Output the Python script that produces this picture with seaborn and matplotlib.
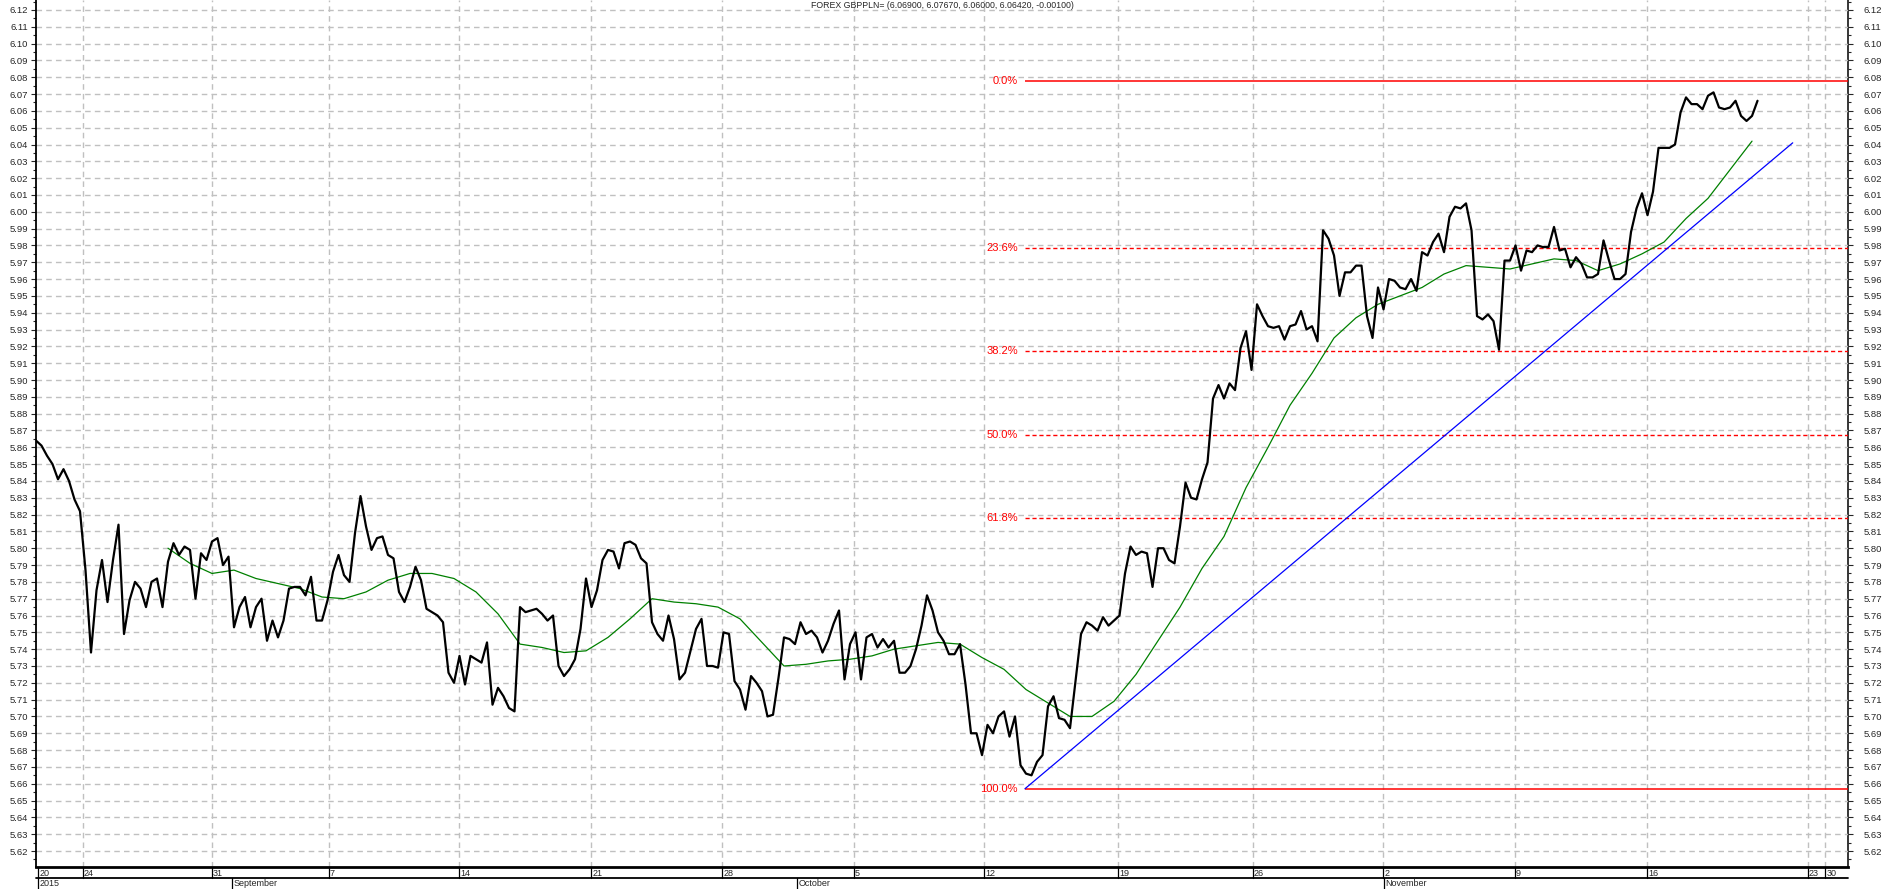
import numpy as np
import pandas as pd
import matplotlib
matplotlib.use("Agg")
import matplotlib.pyplot as plt
import matplotlib.transforms as mtransforms
from matplotlib.ticker import MultipleLocator, FormatStrFormatter
import seaborn as sns

# close price, one sample every 5 hourly bars
close = [
    5.864, 5.861, 5.855, 5.850, 5.841, 5.847, 5.840, 5.829, 5.822, 5.787,
    5.738, 5.775, 5.793, 5.768, 5.793, 5.814, 5.749, 5.769, 5.780, 5.776,
    5.765, 5.780, 5.782, 5.765, 5.792, 5.803, 5.796, 5.801, 5.799, 5.770,
    5.797, 5.793, 5.804, 5.806, 5.790, 5.795, 5.753, 5.765, 5.771, 5.753,
    5.765, 5.770, 5.745, 5.757, 5.747, 5.757, 5.776, 5.777, 5.777, 5.772,
    5.783, 5.757, 5.757, 5.769, 5.786, 5.796, 5.784, 5.780, 5.809, 5.831,
    5.813, 5.799, 5.806, 5.807, 5.796, 5.794, 5.774, 5.768, 5.777, 5.789,
    5.781, 5.764, 5.762, 5.760, 5.756, 5.726, 5.720, 5.736, 5.719, 5.736,
    5.734, 5.732, 5.744, 5.707, 5.717, 5.712, 5.705, 5.703, 5.765, 5.762,
    5.763, 5.764, 5.761, 5.757, 5.760, 5.730, 5.724, 5.728, 5.734, 5.752,
    5.782, 5.765, 5.775, 5.793, 5.799, 5.798, 5.788, 5.803, 5.804, 5.802,
    5.794, 5.791, 5.756, 5.749, 5.745, 5.760, 5.746, 5.722, 5.726, 5.739,
    5.752, 5.758, 5.730, 5.730, 5.729, 5.750, 5.749, 5.721, 5.716, 5.704,
    5.724, 5.720, 5.715, 5.700, 5.701, 5.723, 5.747, 5.746, 5.743, 5.756,
    5.749, 5.751, 5.747, 5.738, 5.745, 5.755, 5.763, 5.722, 5.743, 5.750,
    5.722, 5.747, 5.749, 5.741, 5.746, 5.741, 5.745, 5.726, 5.726, 5.730,
    5.740, 5.754, 5.772, 5.763, 5.750, 5.745, 5.737, 5.737, 5.743, 5.719,
    5.690, 5.690, 5.677, 5.695, 5.690, 5.700, 5.703, 5.688, 5.700, 5.671,
    5.666, 5.665, 5.673, 5.677, 5.706, 5.712, 5.699, 5.698, 5.693, 5.721,
    5.749, 5.756, 5.754, 5.751, 5.759, 5.754, 5.757, 5.760, 5.785, 5.801,
    5.796, 5.798, 5.797, 5.777, 5.800, 5.800, 5.793, 5.791, 5.813, 5.839,
    5.830, 5.829, 5.841, 5.851, 5.889, 5.897, 5.889, 5.898, 5.894, 5.919,
    5.929, 5.906, 5.945, 5.938, 5.932, 5.931, 5.932, 5.924, 5.932, 5.933,
    5.941, 5.930, 5.932, 5.923, 5.989, 5.984, 5.974, 5.950, 5.964, 5.964,
    5.968, 5.968, 5.938, 5.925, 5.955, 5.942, 5.960, 5.959, 5.955, 5.954,
    5.960, 5.953, 5.976, 5.974, 5.982, 5.987, 5.976, 5.997, 6.003, 6.002,
    6.005, 5.989, 5.938, 5.936, 5.939, 5.935, 5.918, 5.971, 5.971, 5.980,
    5.965, 5.977, 5.976, 5.980, 5.979, 5.979, 5.991, 5.977, 5.978, 5.967,
    5.973, 5.969, 5.961, 5.961, 5.963, 5.983, 5.971, 5.960, 5.960, 5.963,
    5.988, 6.002, 6.011, 5.998, 6.012, 6.038, 6.038, 6.038, 6.040, 6.059,
    6.068, 6.064, 6.064, 6.061, 6.069, 6.071, 6.062, 6.061, 6.062, 6.066,
    6.057, 6.054, 6.057, 6.066,
]

# moving average, read every 4th sample starting at sample 24
ma = [
    5.800, 5.791, 5.785, 5.787, 5.782, 5.779, 5.776, 5.771, 5.770, 5.774,
    5.781, 5.785, 5.785, 5.782, 5.774, 5.761, 5.743, 5.741, 5.738, 5.739,
    5.747, 5.758, 5.770, 5.768, 5.767, 5.765, 5.758, 5.744, 5.730, 5.731,
    5.733, 5.734, 5.736, 5.740, 5.742, 5.744, 5.743, 5.735, 5.728, 5.716,
    5.708, 5.700, 5.700, 5.709, 5.725, 5.745, 5.765, 5.788, 5.807, 5.836,
    5.860, 5.885, 5.904, 5.925, 5.937, 5.945, 5.950, 5.955, 5.963, 5.968,
    5.967, 5.966, 5.969, 5.972, 5.971, 5.965, 5.969, 5.975, 5.982, 5.996,
    6.008, 6.025, 6.042,
]
ma_start, ma_step = 24, 4

trend_x = [179.8, 319.4]
trend_y = [5.657, 6.041]

fib_low, fib_high = 5.657, 6.078
fib_start = 179.8
fib_levels = [0.0, 23.6, 38.2, 50.0, 61.8, 100.0]

day_labels = ["20", "24", "31", "7", "14", "21", "28", "5", "12", "19",
              "26", "2", "9", "16", "23", "30"]
day_pos = [0.36, 8.47, 31.93, 53.2, 76.98, 100.85, 124.67, 148.67, 172.42,
           196.8, 221.2, 244.98, 268.85, 292.87, 322.1, 325.3]
month_labels = ["2015", "September", "October", "November"]
month_pos = [0.36, 35.6, 138.4, 245.0]

title = "FOREX GBPPLN= (6.06900, 6.07670, 6.06000, 6.06420, -0.00100)"

sns.set_style("white")
plt.rcParams["font.family"] = ["Liberation Sans", "DejaVu Sans"]

W, H = 1883, 889
fig = plt.figure(figsize=(W / 100, H / 100), dpi=100)
ax = fig.add_axes([36 / W, 22 / H, (1848 - 36) / W, 867 / H])

price = pd.DataFrame({"bar": np.arange(len(close)), "close": close})
avg = pd.DataFrame({"bar": ma_start + ma_step * np.arange(len(ma)), "ma": ma})
trend = pd.DataFrame({"bar": trend_x, "val": trend_y})

xmax = 329.45
ax.set_xlim(0, xmax)
ax.set_ylim(5.6105, 6.1259)

# grid
grid_kw = dict(color="#c0c0c0", lw=1, ls=(0, (4, 3)), zorder=0)
ax.yaxis.set_major_locator(MultipleLocator(0.01))
ax.yaxis.set_minor_locator(MultipleLocator(0.005))
ax.yaxis.grid(True, which="major", **grid_kw)
for p in day_pos[1:]:
    ax.axvline(p, **grid_kw)

sns.lineplot(data=avg, x="bar", y="ma", ax=ax, color="#008000", lw=0.9, zorder=3)
sns.lineplot(data=trend, x="bar", y="val", ax=ax, color="#0000ff", lw=0.9, zorder=3)
sns.lineplot(data=price, x="bar", y="close", ax=ax, color="black", lw=1.6, zorder=4)

# fibonacci retracement
for lvl in fib_levels:
    v = fib_high - (fib_high - fib_low) * lvl / 100
    solid = lvl in (0.0, 100.0)
    ax.hlines(v, fib_start, xmax, color="#ff0000", lw=1.1 if solid else 1.0,
              ls="-" if solid else (0, (3, 2)), zorder=2)
    ax.annotate(f"{lvl:.1f}%", xy=(fib_start, v), xytext=(-5, 0),
                textcoords="offset points", ha="right", va="center",
                color="#ff0000", fontsize=8)

ax.set_xlabel("")
ax.set_ylabel("")
ax.set_xticks([])

# y axes on both sides
ax.yaxis.set_major_formatter(FormatStrFormatter("%.2f"))
ax.tick_params(axis="y", which="major", left=True, right=False, direction="out",
               length=3.5, width=0.8, pad=2, labelsize=6.8)
ax.tick_params(axis="y", which="minor", left=True, right=False, direction="out",
               length=2, width=0.8)
rax = ax.secondary_yaxis("right")
rax.yaxis.set_major_locator(MultipleLocator(0.01))
rax.yaxis.set_minor_locator(MultipleLocator(0.005))
rax.yaxis.set_major_formatter(FormatStrFormatter("%.2f"))
rax.tick_params(axis="y", which="major", direction="out", length=3.8, width=0.8,
                pad=7.5, labelsize=6.8)
rax.tick_params(axis="y", which="minor", direction="out", length=2, width=0.8)
rax.spines["right"].set_linewidth(1.3)

for s in ["left", "right"]:
    ax.spines[s].set_linewidth(1.3)
    ax.spines[s].set_color("black")
ax.spines["bottom"].set_linewidth(2)
ax.spines["bottom"].set_color("black")
ax.spines["top"].set_visible(False)
ax.spines["right"].set_visible(False)

# date rows under the plot
px = 1 / 867
trans = mtransforms.blended_transform_factory(ax.transData, ax.transAxes)
ax.plot([0, 1], [-11 * px, -11 * px], transform=ax.transAxes, color="black",
        lw=1.3, clip_on=False)
for lab, p in zip(day_labels, day_pos):
    ax.plot([p, p], [0, -11 * px], transform=trans, color="black", lw=0.9,
            clip_on=False)
    ax.annotate(lab, xy=(p, -6 * px), xycoords=trans, xytext=(1, 0),
                textcoords="offset points", ha="left", va="center", fontsize=6.5)
for lab, p in zip(month_labels, month_pos):
    ax.plot([p, p], [-11 * px, -22 * px], transform=trans, color="black",
            lw=0.9, clip_on=False)
    ax.annotate(lab, xy=(p, -17 * px), xycoords=trans, xytext=(1, 0),
                textcoords="offset points", ha="left", va="center", fontsize=6.5)

ax.text(0.5, 1 - 6 * px, title, transform=ax.transAxes, ha="center",
        va="center", fontsize=6.3)

fig.savefig("out.png", dpi=100, facecolor="white")
